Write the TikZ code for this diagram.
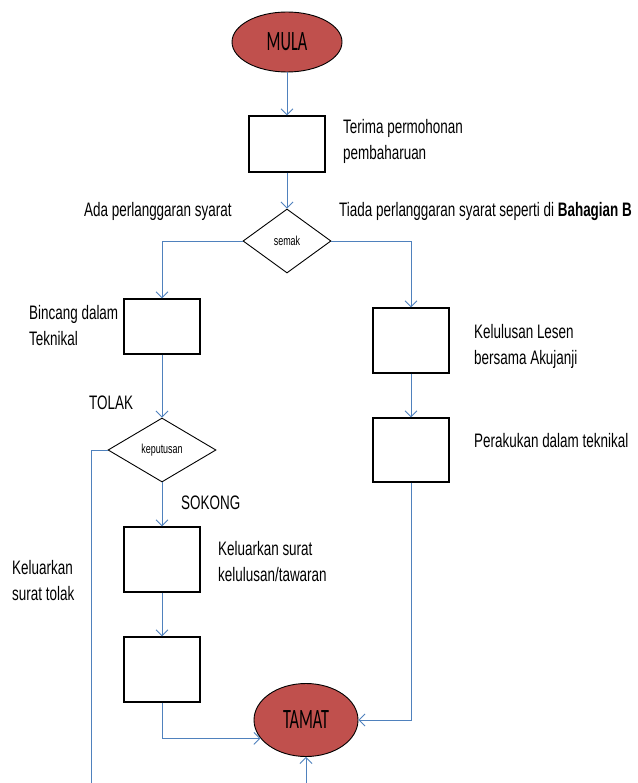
\documentclass[tikz,border=0pt]{standalone}
\usepackage{fontspec}
\setmainfont{Liberation Sans}[FakeStretch=0.69]
\newfontfamily\termfont{Carlito}[FakeStretch=0.58]
\usetikzlibrary{arrows.meta, shapes.geometric, positioning}
\definecolor{AccentRed}{HTML}{C0504D}
\definecolor{AccentBlue}{HTML}{4F81BD}

\begin{document}
\begin{tikzpicture}[x=1pt, y=-1pt,
    proc/.style={rectangle, draw, line width=1.2pt, minimum width=76pt, inner sep=0pt},
    decision/.style={diamond, draw, line width=0.9pt, inner sep=0pt, font=\fontsize{13}{15}\selectfont},
    terminal/.style={ellipse, draw, fill=AccentRed, line width=0.9pt, inner sep=0pt, font=\termfont\fontsize{28}{30}\selectfont},
    lbl/.style={anchor=base west, inner sep=0pt, align=left, font=\fontsize{19.5}{26}\selectfont},
    flow/.style={AccentBlue, line width=0.9pt, -{Straight Barb[length=6pt, width=12pt]}}]

    \useasboundingbox (0,0) rectangle (637,783);
    \fill[white] (0,0) rectangle (637,783);
    \clip (0,0) rectangle (637,783);

    \node[terminal, minimum width=110pt, minimum height=60pt] (mula) at (287,42) {MULA};
    \node[proc, minimum height=56pt] (terima) at (287,144) {};
    \node[decision, minimum width=88pt, minimum height=64pt] (semak) at (287,241) {semak};
    \node[proc, minimum height=55pt] (bincang) at (162,326.5) {};
    \node[proc, minimum height=65pt] (lulus) at (411,340.5) {};
    \node[proc, minimum height=64pt] (perakuan) at (411,450) {};
    \node[decision, minimum width=108pt, minimum height=64pt] (keputusan) at (162,450) {keputusan};
    \node[proc, minimum height=65pt] (suratlulus) at (162,559.5) {};
    \node[proc, minimum height=65pt] (akhir) at (162,669.5) {};
    \node[terminal, minimum width=104pt, minimum height=73pt] (tamat) at (306,720) {TAMAT};
    \coordinate (loop) at (91,800);

    % labels (base = last line)
    \node[lbl] (lblterima) at (343,160) {Terima permohonan\\pembaharuan};
    \node[lbl] (lblada) at (84,217) {Ada perlanggaran syarat};
    \node[lbl] (lbltiada) at (339,217) {Tiada perlanggaran syarat seperti di \textbf{Bahagian B}};
    \node[lbl] (lblbincang) at (29,345) {Bincang dalam\\Teknikal};
    \node[lbl] (lbllulus) at (474,364) {Kelulusan Lesen\\bersama Akujanji};
    \node[lbl] (lblperakuan) at (474,447) {Perakukan dalam teknikal};
    \node[lbl] (lbltolak) at (89,409) {TOLAK};
    \node[lbl] (lblsokong) at (181,509) {SOKONG};
    \node[lbl] (lblsurat) at (218,581) {Keluarkan surat\\kelulusan/tawaran};
    \node[lbl] (lblsurattolak) at (12,600) {Keluarkan\\surat tolak};

    \draw[flow] (mula) -- (terima);
    \draw[flow] (terima) -- (semak);
    \draw[flow] (semak.west) -| (bincang.north);
    \draw[flow] (semak.east) -| (lulus.north);
    \draw[flow] (bincang) -- (keputusan);
    \draw[flow] (lulus) -- (perakuan);
    \draw[flow] (keputusan) -- (suratlulus);
    \draw[flow] (suratlulus) -- (akhir);
    \draw[flow] (akhir.south) |- (tamat.202);
    \draw[flow] (perakuan.south) |- (tamat.east);
    \draw[flow] (keputusan.west) -| (loop) -| (tamat.south);

\end{tikzpicture}
\end{document}
